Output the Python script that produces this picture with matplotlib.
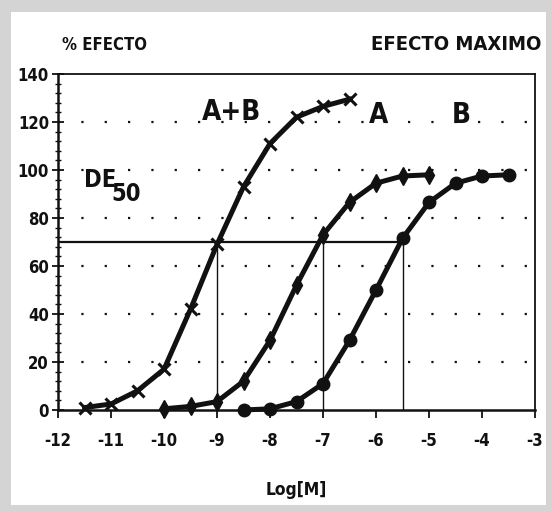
import matplotlib
matplotlib.use("Agg")
import matplotlib.pyplot as plt
from matplotlib.patches import Rectangle
from matplotlib.ticker import MultipleLocator

# dose (log molar) and effect (%)
x_ab = [-11.5, -11, -10.5, -10, -9.5, -9, -8.5, -8, -7.5, -7, -6.5]
y_ab = [1, 2.5, 8, 17, 42, 69, 93, 111, 122, 126.5, 129.5]

x_a = [-10, -9.5, -9, -8.5, -8, -7.5, -7, -6.5, -6, -5.5, -5]
y_a = [0.5, 1.5, 3.5, 12, 29, 52, 73, 86.5, 94.5, 97.5, 98]

x_b = [-8.5, -8, -7.5, -7, -6.5, -6, -5.5, -5, -4.5, -4, -3.5]
y_b = [0, 0.5, 3.5, 11, 29, 50, 71.5, 86.5, 94.5, 97.5, 98]

ed_level = 70
ed_x = [-9, -7, -5.5]

xticks = [-12, -11, -10, -9, -8, -7, -6, -5, -4, -3]
yticks = [0, 20, 40, 60, 80, 100, 120, 140]

INK = "#111111"
FONT = ["DejaVu Sans"]
TXT = dict(family=FONT, fontweight="bold", fontstretch="condensed",
           color=INK)

fig = plt.figure(figsize=(5.52, 5.12), dpi=100, facecolor="#d4d4d4")
# white sheet over a grey shadow
fig.patches.append(Rectangle((11 / 552, 7 / 512), 535 / 552, 493 / 512,
                             transform=fig.transFigure, facecolor="white",
                             edgecolor="none", zorder=-5))

ax = fig.add_axes([58 / 552, 1 - 410 / 512, 477 / 552, 336 / 512])
ax.set_zorder(2)
ax.set_xlim(-12, -3)
ax.set_ylim(0, 140)
for s in ax.spines.values():
    s.set_color(INK)
    s.set_linewidth(1.3)
ax.spines["left"].set_linewidth(1.8)
ax.spines["bottom"].set_linewidth(1.8)

ax.set_xticks(xticks)
ax.set_xticklabels([str(v) for v in xticks], fontsize=12, **TXT)
ax.set_yticks(yticks)
ax.set_yticklabels([str(v) for v in yticks], fontsize=12, **TXT)
ax.yaxis.set_minor_locator(MultipleLocator(4))
ax.tick_params(axis="x", direction="out", length=6, width=1.3, pad=10,
               colors=INK)
ax.tick_params(axis="y", which="major", direction="inout", length=9,
               width=1.3, pad=2, colors=INK)
ax.tick_params(axis="y", which="minor", direction="inout", length=5,
               width=1.0, colors=INK)

# sparse dotted grid
for yv in yticks[1:-1]:
    ax.axhline(yv, color=INK, lw=1.6, ls=(0, (1, 9.5)), zorder=1)

# ED50 guides
ax.plot([-12, ed_x[-1]], [ed_level, ed_level], color=INK, lw=1.6, zorder=2)
for xv in ed_x:
    ax.plot([xv, xv], [0, ed_level], color=INK, lw=1.0, zorder=2)

ax.plot(x_ab, y_ab, color=INK, lw=3.6, marker="x", ms=8, mew=2.2,
        zorder=3, clip_on=False)
ax.plot(x_a, y_a, color=INK, lw=3.6, marker="d", ms=9, zorder=3,
        clip_on=False)
ax.plot(x_b, y_b, color=INK, lw=3.6, marker="o", ms=9, zorder=3,
        clip_on=False)

# curve labels
ax.text(-8.72, 124, "A+B", fontsize=20, ha="center", va="center", **TXT)
ax.text(-5.96, 123, "A", fontsize=20, ha="center", va="center", **TXT)
ax.text(-4.4, 123, "B", fontsize=20, ha="center", va="center", **TXT)
ax.text(-11.2, 96, "DE", fontsize=17, ha="center", va="center", **TXT)
ax.text(-10.72, 90, "50", fontsize=17, ha="center", va="center", **TXT)

fig.text(62 / 552, 1 - 45 / 512, "% EFECTO", fontsize=12, ha="left",
         va="center", **TXT)
fig.text(541 / 552, 1 - 45 / 512, "EFECTO MAXIMO", fontsize=14.5,
         ha="right", va="center", **TXT)
fig.text(296 / 552, 1 - 490 / 512, "Log[M]", fontsize=12.5, ha="center",
         va="center", **TXT)

fig.savefig("out.png", dpi=100, facecolor=fig.get_facecolor())
